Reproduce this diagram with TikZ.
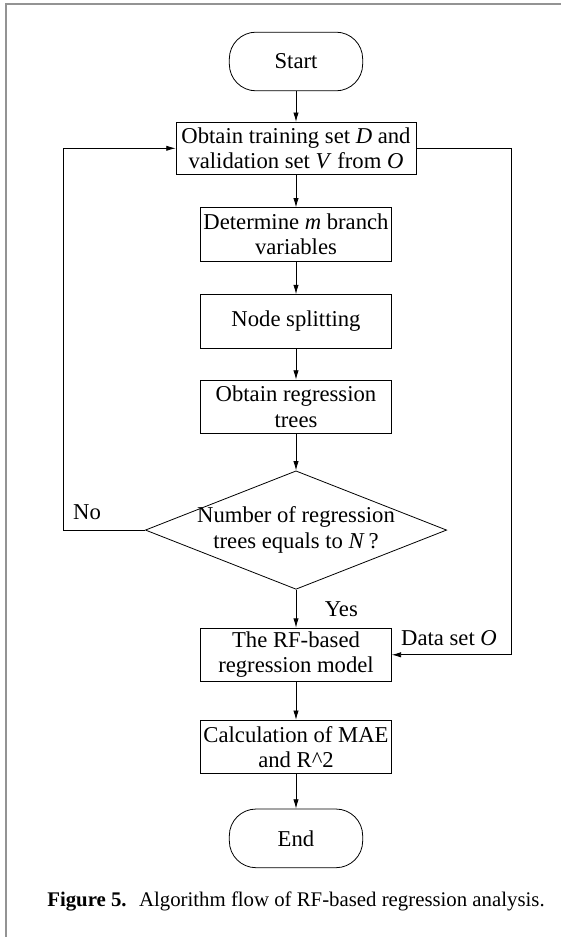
\documentclass[tikz,border=0pt]{standalone}
\usepackage{fontspec}
\setmainfont{Liberation Serif}
\usetikzlibrary{arrows.meta,positioning,shapes.geometric}

\begin{document}
\begin{tikzpicture}[
  x=0.75pt,y=-0.75pt,
  >={Latex[length=7pt,width=4pt]},
  node distance=25pt,
  font=\fontsize{17pt}{19pt}\selectfont,
  stepbox/.style={draw,line width=0.6pt,minimum width=143pt,minimum height=40pt,
    align=center,inner xsep=2pt,inner ysep=1pt},
  term/.style={draw,line width=0.6pt,rounded corners=20pt,minimum width=100pt,
    minimum height=44pt},
  decide/.style={diamond,draw,line width=0.6pt,shape aspect=2.46,inner xsep=0pt,
    inner ysep=-3pt,align=center,minimum width=226pt},
  link/.style={->,line width=0.6pt}
]
  \useasboundingbox (0,0) rectangle (561,937);
  % frame of the figure
  \draw[line width=1.5pt,gray!85] (6,937) -- (6,4) -- (561,4);

  \node[term] (start) at (296,61.5) {Start};
  \node[stepbox,minimum width=180pt,minimum height=39pt,below=23pt of start] (obtain)
    {Obtain training set \textit{D} and\\validation set \textit{V} from \textit{O}};
  \node[stepbox,below=24.5pt of obtain] (branch) {Determine \textit{m} branch\\variables};
  \node[stepbox,below=24.5pt of branch] (split) {Node splitting};
  \node[stepbox,below=23.5pt of split] (trees) {Obtain regression\\trees};
  \node[decide,below=27.5pt of trees] (check) {Number of regression\\trees equals to \textit{N}\,?};
  \node[stepbox,below=28.5pt of check] (model) {The RF-based\\regression model};
  \node[stepbox,below=28.5pt of model] (metric) {Calculation of MAE\\and R\textasciicircum 2};
  \node[term,below=26pt of metric] (finish) {End};

  \coordinate (loopL) at (63,0);
  \coordinate (loopR) at (511,0);

  \draw[link] (start) -- (obtain);
  \draw[link] (obtain) -- (branch);
  \draw[link] (branch) -- (split);
  \draw[link] (split) -- (trees);
  \draw[link] (trees) -- (check);
  \draw[link] (check) -- node[right=18pt] {Yes} (model);
  \draw[link] (model) -- (metric);
  \draw[link] (metric) -- (finish);

  % loops
  \draw[link] (check.west) -- (check.west -| loopL)
    node[above right,xshift=4pt,yshift=4pt] {No} |- (obtain.west);
  \draw[link] (obtain.east) -- (obtain.east -| loopR) |- (model.east)
    node[pos=0.5,above left,xshift=-7pt,yshift=3pt] {Data set \textit{O}};

  \node[font=\fontsize{15.6pt}{18pt}\selectfont] (caption) at (296,901)
    {\textbf{Figure 5.}\hspace{0.6em}Algorithm flow of RF-based regression analysis.};
\end{tikzpicture}
\end{document}
